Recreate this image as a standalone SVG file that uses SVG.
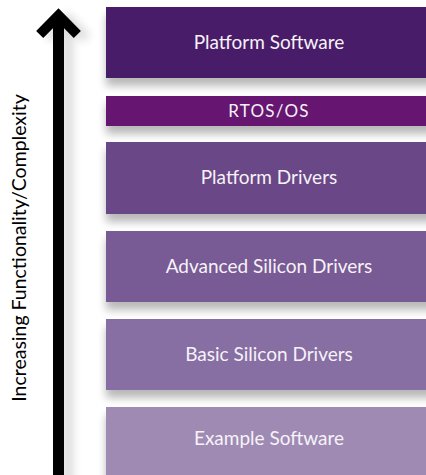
<svg xmlns="http://www.w3.org/2000/svg" width="426" height="475" viewBox="0 0 426 475">
  <defs>
    <style>
      .layer-label { font-family: Lato, "Open Sans", "Liberation Sans", sans-serif; font-size: 19px; fill: #f6f2f8; text-anchor: middle; }
      .small { font-size: 17px; letter-spacing: 1.2px; }
      .axis-label { font-family: Lato, "Open Sans", "Liberation Sans", sans-serif; font-size: 19.5px; fill: #000; text-anchor: middle; }
    </style>
    <!-- soft drop shadow under each layer bar -->
    <filter id="barShadow" x="-10%" y="-30%" width="130%" height="190%">
      <feGaussianBlur in="SourceAlpha" stdDeviation="4"/>
      <feOffset dx="0" dy="8" result="off"/>
      <feComponentTransfer><feFuncA type="linear" slope="0.28"/></feComponentTransfer>
      <feMerge><feMergeNode/><feMergeNode in="SourceGraphic"/></feMerge>
    </filter>
    <!-- shadow cast to the right of the vertical arrow -->
    <filter id="arrowShadow" x="-100%" y="-10%" width="400%" height="130%">
      <feGaussianBlur in="SourceAlpha" stdDeviation="5"/>
      <feOffset dx="9" dy="4"/>
      <feComponentTransfer><feFuncA type="linear" slope="0.15"/></feComponentTransfer>
      <feMerge><feMergeNode/><feMergeNode in="SourceGraphic"/></feMerge>
    </filter>
  </defs>

  <rect x="0" y="0" width="426" height="475" fill="#ffffff"/>

  <!-- axis arrow -->
  <g id="connectors">
    <g id="axis-arrow" filter="url(#arrowShadow)">
      <line x1="58.5" y1="16" x2="58.5" y2="480" stroke="#000" stroke-width="11"/>
      <polyline points="39.7,34.5 58.5,15.4 77.3,34.5" fill="none" stroke="#000" stroke-width="10" stroke-linejoin="miter" stroke-miterlimit="4"/>
    </g>
  </g>

  <g id="axis-label">
    <text class="axis-label" transform="translate(26,248) rotate(-90)" x="0" y="0">Increasing Functionality/Complexity</text>
  </g>

  <!-- layer stack, bottom to top -->
  <g id="example-software">
    <rect x="106" y="407" width="330" height="75" fill="#9f8ab4" filter="url(#barShadow)"/>
    <text class="layer-label" x="269" y="445">Example Software</text>
  </g>
  <g id="basic-silicon-drivers">
    <rect x="106" y="319" width="330" height="71" fill="#876ea3" filter="url(#barShadow)"/>
    <text class="layer-label" x="269" y="361">Basic Silicon Drivers</text>
  </g>
  <g id="advanced-silicon-drivers">
    <rect x="106" y="231" width="330" height="71" fill="#785a94" filter="url(#barShadow)"/>
    <text class="layer-label" x="269" y="273">Advanced Silicon Drivers</text>
  </g>
  <g id="platform-drivers">
    <rect x="106" y="142" width="330" height="72" fill="#6b4786" filter="url(#barShadow)"/>
    <text class="layer-label" x="269" y="184">Platform Drivers</text>
  </g>
  <g id="rtos-os">
    <rect x="106" y="96" width="330" height="30" fill="#661670" filter="url(#barShadow)"/>
    <text class="layer-label small" x="269" y="117">RTOS/OS</text>
  </g>
  <g id="platform-software">
    <rect x="106" y="7" width="330" height="71" fill="#4a1b6b" filter="url(#barShadow)"/>
    <text class="layer-label" x="269" y="49">Platform Software</text>
  </g>
</svg>
